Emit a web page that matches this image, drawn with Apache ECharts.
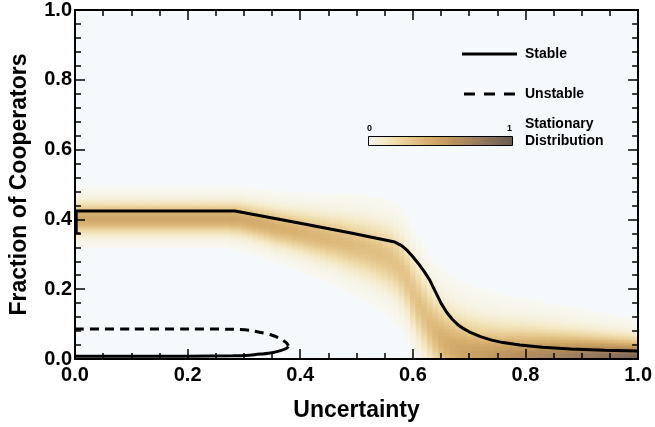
<!DOCTYPE html>
<html>
<head>
<meta charset="utf-8">
<script src="https://cdn.jsdelivr.net/npm/echarts@6/dist/echarts.min.js"></script>
<style>
html,body{margin:0;padding:0;background:#fff;}
#chart{width:655px;height:427px;}
</style>
</head>
<body>
<div id="chart"></div>
<script>
// ---- Data ----
const xTicks = [0.0, 0.2, 0.4, 0.6, 0.8, 1.0];
const yTicks = [0.0, 0.2, 0.4, 0.6, 0.8, 1.0];

// Stable branch (upper)
const stableX = [0, 0.10, 0.20, 0.284, 0.40, 0.49, 0.568, 0.58, 0.59, 0.60, 0.61, 0.62, 0.63, 0.64, 0.65, 0.66, 0.67, 0.68, 0.69, 0.70, 0.72, 0.74, 0.76, 0.79, 0.83, 0.88, 0.94, 1.00];
const stableY = [0.424, 0.424, 0.424, 0.424, 0.389, 0.361, 0.335, 0.325, 0.311, 0.293, 0.273, 0.251, 0.226, 0.193, 0.160, 0.134, 0.114, 0.098, 0.087, 0.078, 0.064, 0.054, 0.047, 0.040, 0.034, 0.029, 0.025, 0.023];

// Stable branch (lower)
const stableLowX = [0, 0.10, 0.20, 0.28, 0.31, 0.33, 0.35, 0.365, 0.375, 0.379];
const stableLowY = [0.008, 0.008, 0.008, 0.009, 0.011, 0.014, 0.018, 0.024, 0.030, 0.036];

// Unstable branch
const unstableX = [0, 0.10, 0.20, 0.28, 0.31, 0.33, 0.35, 0.365, 0.375, 0.379];
const unstableY = [0.086, 0.086, 0.086, 0.085, 0.082, 0.076, 0.068, 0.058, 0.047, 0.038];

// small bracket mark at x = 0
const bracketX = [0.003, 0.003, 0.010];
const bracketY = [0.424, 0.360, 0.360];

// Stationary distribution: per-column profile (column x, mode, spread, peak density)
const distX = [0.00,0.01,0.02,0.03,0.04,0.05,0.06,0.07,0.08,0.09,0.10,0.11,0.12,0.13,0.14,0.15,0.16,0.17,0.18,0.19,0.20,0.21,0.22,0.23,0.24,0.25,0.26,0.27,0.28,0.29,0.30,0.31,0.32,0.33,0.34,0.35,0.36,0.37,0.38,0.39,0.40,0.41,0.42,0.43,0.44,0.45,0.46,0.47,0.48,0.49,0.50,0.51,0.52,0.53,0.54,0.55,0.56,0.57,0.58,0.59,0.60,0.61,0.62,0.63,0.64,0.65,0.66,0.67,0.68,0.69,0.70,0.71,0.72,0.73,0.74,0.75,0.76,0.77,0.78,0.79,0.80,0.81,0.82,0.83,0.84,0.85,0.86,0.87,0.88,0.89,0.90,0.91,0.92,0.93,0.94,0.95,0.96,0.97,0.98,0.99,1.00];
const distMode = [0.405,0.405,0.405,0.405,0.405,0.405,0.405,0.405,0.405,0.405,0.405,0.405,0.405,0.405,0.405,0.405,0.405,0.405,0.405,0.405,0.405,0.405,0.405,0.405,0.405,0.405,0.405,0.405,0.404,0.403,
  0.400,0.397,0.393,0.390,0.386,0.382,0.378,0.375,0.372,0.368,0.365,0.361,0.357,0.354,0.350,0.346,0.343,0.339,0.334,0.330,
  0.325,0.321,0.316,0.310,0.303,0.296,0.287,0.273,0.255,0.228,0.192,0.160,0.130,0.102,0.078,0.060,0.045,0.034,0.025,0.018,
  0.012,0.008,0.005,0.003,0.002,0.001,0,0,0,0,0,0,0,0,0,0,0,0,0,0,0,0,0,0,0,0,0,0,0,0,0];
const distSpread = [0.028,0.028,0.028,0.028,0.028,0.028,0.028,0.028,0.028,0.028,0.028,0.028,0.028,0.028,0.028,0.028,0.028,0.028,0.028,0.028,0.028,0.028,0.028,0.028,0.028,0.028,0.028,0.028,0.029,0.029,
  0.030,0.030,0.031,0.031,0.032,0.033,0.034,0.034,0.035,0.036,0.037,0.038,0.039,0.040,0.041,0.042,0.043,0.045,0.046,0.047,
  0.048,0.050,0.051,0.052,0.054,0.055,0.057,0.058,0.060,0.061,0.063,0.064,0.065,0.065,0.066,0.066,0.066,0.066,0.065,0.065,
  0.064,0.063,0.062,0.061,0.060,0.059,0.058,0.057,0.056,0.055,0.054,0.053,0.052,0.051,0.050,0.049,0.048,0.047,0.046,0.045,
  0.044,0.043,0.042,0.041,0.040,0.039,0.038,0.037,0.036,0.035,0.034];
const distPeak = [0.46,0.46,0.46,0.46,0.46,0.46,0.46,0.46,0.46,0.46,0.46,0.46,0.46,0.46,0.46,0.46,0.46,0.46,0.46,0.46,0.46,0.46,0.46,0.46,0.46,0.46,0.46,0.46,0.46,0.45,
  0.44,0.44,0.43,0.43,0.42,0.42,0.41,0.41,0.40,0.40,0.39,0.39,0.38,0.38,0.37,0.37,0.36,0.36,0.35,0.35,
  0.34,0.34,0.33,0.33,0.33,0.32,0.32,0.31,0.31,0.31,0.31,0.32,0.33,0.35,0.37,0.40,0.42,0.44,0.46,0.48,
  0.49,0.51,0.52,0.54,0.55,0.57,0.58,0.60,0.61,0.63,0.64,0.66,0.67,0.69,0.70,0.72,0.73,0.75,0.76,0.78,
  0.79,0.81,0.82,0.84,0.85,0.87,0.88,0.90,0.91,0.93,0.94];

const colorStops = ['#f8f8f2', '#f5ebcc', '#eedaa8', '#e4c58a', '#d8b170', '#c9a062', '#b8905e', '#a6845f', '#91775c', '#7c6855', '#6a5a4e'];

// ---- Build series data ----
const zip = (xs, ys) => xs.map((x, i) => [x, ys[i]]);
const cellH = 0.004;
const cells = [];
for (let i = 0; i < distX.length; i++) {
  const x0 = Math.max(0, distX[i] - 0.005), x1 = Math.min(1, distX[i] + 0.005);
  for (let j = 0; j < 250; j++) {
    const yc = (j + 0.5) * cellH;
    const d = (yc - distMode[i]) / distSpread[i];
    const v = distPeak[i] * Math.exp(-0.5 * d * d);
    if (v > 0.004) cells.push([x0, x1, j * cellH, (j + 1) * cellH, v]);
  }
}

const font = "'Liberation Sans', Arial, Helvetica, sans-serif";
const chart = echarts.init(document.getElementById('chart'));
const tickCommon = {
  z: 10,
  axisLine: { show: true, onZero: false, lineStyle: { color: '#000', width: 2 } },
  axisTick: { show: true, inside: true, length: 10, lineStyle: { color: '#000', width: 1.5 } },
  minorTick: { show: true, length: 6, lineStyle: { color: '#000', width: 1.5 } },
  splitLine: { show: false },
  min: 0, max: 1, interval: 0.2
};

chart.setOption({
  animation: false,
  backgroundColor: '#ffffff',
  grid: { left: 71, right: 14, top: 10, bottom: 68, show: true, backgroundColor: '#f6f9fb', borderWidth: 0, z: 0 },
  xAxis: [
    Object.assign({}, tickCommon, {
      type: 'value', position: 'bottom',
      minorTick: Object.assign({}, tickCommon.minorTick, { splitNumber: 4 }),
      axisLabel: { show: true, fontFamily: font, fontWeight: 'bold', fontSize: 20, color: '#000', margin: 6,
        formatter: v => xTicks.includes(+v.toFixed(1)) ? v.toFixed(1) : '' },
      name: 'Uncertainty', nameLocation: 'middle', nameGap: 40,
      nameTextStyle: { fontFamily: font, fontWeight: 'bold', fontSize: 23, color: '#000' }
    }),
    Object.assign({}, tickCommon, {
      type: 'value', position: 'top',
      minorTick: Object.assign({}, tickCommon.minorTick, { splitNumber: 4 }),
      axisLabel: { show: false }
    })
  ],
  yAxis: [
    Object.assign({}, tickCommon, {
      type: 'value', position: 'left',
      minorTick: Object.assign({}, tickCommon.minorTick, { splitNumber: 5 }),
      axisLabel: { show: true, fontFamily: font, fontWeight: 'bold', fontSize: 20, color: '#000', margin: 3,
        formatter: v => yTicks.includes(+v.toFixed(1)) ? v.toFixed(1) : '' },
      name: 'Fraction of Cooperators', nameLocation: 'middle', nameGap: 44,
      nameTextStyle: { fontFamily: font, fontWeight: 'bold', fontSize: 23, color: '#000' }
    }),
    Object.assign({}, tickCommon, {
      type: 'value', position: 'right',
      minorTick: Object.assign({}, tickCommon.minorTick, { splitNumber: 5 }),
      axisLabel: { show: false }
    })
  ],
  visualMap: {
    type: 'continuous', min: 0, max: 1, seriesIndex: 0, dimension: 4,
    orient: 'horizontal', left: 368, top: 136, itemWidth: 10, itemHeight: 145,
    calculable: false, hoverLink: false, text: null, padding: 0,
    inRange: { color: colorStops }
  },
  legend: {
    data: [
      { name: 'Stable', icon: 'rect' },
      { name: 'Unstable', icon: 'path://M0,0h11v3h-11z M20,0h11v3h-11z M40,0h11v3h-11z' }
    ],
    orient: 'vertical', left: 457, top: 42,
    itemWidth: 55, itemHeight: 3, itemGap: 26,
    textStyle: { fontFamily: font, fontWeight: 'bold', fontSize: 14, color: '#000', padding: [0, 0, 0, 3] },
    selectedMode: false
  },
  graphic: [
    { type: 'rect', z: 100, shape: { x: 368.5, y: 136.5, width: 144, height: 9 }, style: { fill: 'none', stroke: '#000', lineWidth: 1 } },
    { type: 'text', left: 367, top: 124, style: { text: '0', font: 'bold 9px ' + font, fill: '#000' } },
    { type: 'text', left: 507, top: 124, style: { text: '1', font: 'bold 9px ' + font, fill: '#000' } },
    { type: 'text', left: 525, top: 116, style: { text: 'Stationary\nDistribution', font: 'bold 14px ' + font, lineHeight: 17, fill: '#000' } }
  ],
  series: [
    {
      type: 'custom', name: 'Stationary Distribution', silent: true, clip: true, z: 1,
      encode: { x: [0, 1], y: [2, 3] }, progressive: 0,
      renderItem: function (params, api) {
        const p0 = api.coord([api.value(0), api.value(3)]);
        const p1 = api.coord([api.value(1), api.value(2)]);
        const cs = params.coordSys;
        const shape = echarts.graphic.clipRectByRect(
          { x: p0[0], y: p0[1], width: p1[0] - p0[0] + 0.6, height: p1[1] - p0[1] + 0.6 },
          { x: cs.x, y: cs.y, width: cs.width, height: cs.height });
        return shape && { type: 'rect', shape: shape, style: { fill: api.visual('color') } };
      },
      data: cells
    },
    { type: 'line', name: 'Stable', data: zip(stableX, stableY), symbol: 'none', lineStyle: { color: '#000', width: 3 }, itemStyle: { color: '#000' }, z: 5 },
    { type: 'line', name: 'Stable', data: zip(stableLowX, stableLowY), symbol: 'none', smooth: 0.3, lineStyle: { color: '#000', width: 3 }, itemStyle: { color: '#000' }, z: 5 },
    { type: 'line', name: 'Unstable', data: zip(unstableX, unstableY), symbol: 'none', smooth: 0.3, lineStyle: { color: '#000', width: 3, type: [9, 6] }, itemStyle: { color: '#000' }, z: 5 },
    { type: 'line', name: 'bracket', data: zip(bracketX, bracketY), symbol: 'none', lineStyle: { color: '#000', width: 2 }, z: 5 }
  ]
});
</script>
</body>
</html>
